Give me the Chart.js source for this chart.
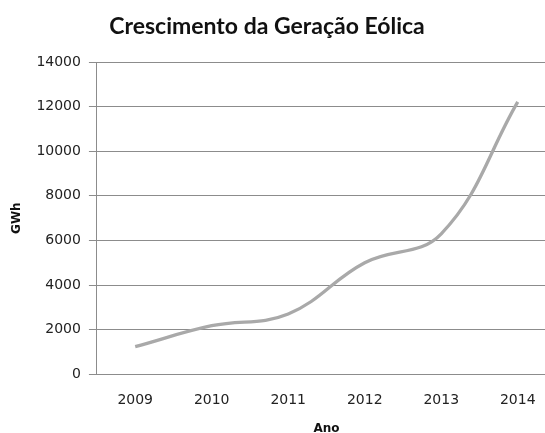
<!DOCTYPE html>
<html>
<head>
<meta charset="utf-8">
<script src="https://cdn.jsdelivr.net/npm/chart.js@4"></script>
<style>
  html, body { margin: 0; padding: 0; background: #fff; overflow: hidden; }
  #wrap { width: 556px; height: 436px; }
</style>
</head>
<body>
<div id="wrap"><canvas id="graph_data"></canvas></div>
<script>
// geração eólica anual (GWh)
var anos = ['2009', '2010', '2011', '2012', '2013', '2014'];
var geracao = [1238, 2177, 2705, 5000, 6300, 12210];
var yTicks = [0, 2000, 4000, 6000, 8000, 10000, 12000, 14000];
var titulo = 'Crescimento da Geração Eólica';

// título desenhado à mão para ficar centrado na figura e não na área do canvas
const tituloPlugin = {
    id: 'tituloPlugin',
    afterDraw: function(chart){
        var c = chart.ctx;
        c.save();
        c.fillStyle = '#111';
        c.font = 'bold 23px Lato';
        c.textAlign = 'center';
        c.textBaseline = 'middle';
        c.fillText(titulo, 267, 27);
        c.restore();
    }
};

function graph(){
    const data = {
        labels: anos,
        datasets: [{
            data: geracao,
            borderColor: '#a9a9a9',
            borderWidth: 3.3,
            pointRadius: 0,
            tension: 0.4,
            fill: false
        }]
    };

    const line = {
        type: 'line',
        data: data,
        options: {
            responsive: true,
            maintainAspectRatio: false,
            animation: false,
            layout: {
                padding: { left: 10, right: 0, top: 62, bottom: 0 }
            },
            plugins: {
                legend: { display: false },
                tooltip: { enabled: false },
                title: { display: false }
            },
            scales: {
                x: {
                    offset: true,
                    grid: { display: false },
                    border: { color: '#8c8c8c', width: 1 },
                    ticks: {
                        color: '#222',
                        font: { family: 'DejaVu Sans', size: 14 },
                        padding: 10,
                        maxRotation: 0
                    },
                    title: {
                        display: true,
                        text: 'Ano',
                        color: '#111',
                        font: { family: 'DejaVu Sans', size: 12, weight: 'bold' },
                        padding: { top: 2.5, bottom: 0 }
                    }
                },
                y: {
                    min: 0,
                    max: 14000,
                    afterBuildTicks: function(axis){
                        axis.ticks = yTicks.map(function(v){ return { value: v }; });
                    },
                    grid: { color: '#8c8c8c', tickColor: '#8c8c8c', tickLength: 8, lineWidth: 1 },
                    border: { color: '#8c8c8c', width: 1 },
                    ticks: {
                        color: '#222',
                        font: { family: 'DejaVu Sans', size: 14 },
                        padding: 8,
                        callback: function(v){ return String(v); }
                    },
                    title: {
                        display: true,
                        text: 'GWh',
                        color: '#111',
                        font: { family: 'DejaVu Sans', size: 12, weight: 'bold' },
                        padding: { top: 0, bottom: 4 }
                    }
                }
            }
        },
        plugins: [tituloPlugin]
    };

    var ctx = document.getElementById('graph_data');
    chart = new Chart(ctx, line);
}

graph();
</script>
</body>
</html>
